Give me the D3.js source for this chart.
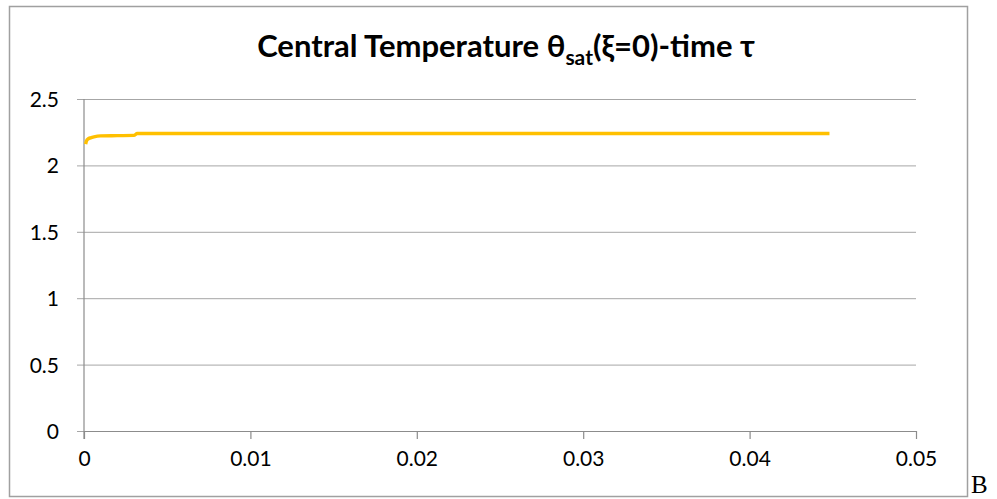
<!DOCTYPE html>
<html>
<head>
<meta charset="utf-8">
<script src="https://cdn.jsdelivr.net/npm/d3@7"></script>
<style>
  html, body { margin: 0; padding: 0; background: #fff; }
  svg { display: block; }
</style>
</head>
<body>
<svg id="chart" width="997" height="499"></svg>
<script>
// Central temperature θ_sat at ξ=0 against dimensionless time τ
const tau   = [0.0001, 0.00015, 0.00025, 0.0004, 0.0006, 0.001, 0.002, 0.0030, 0.0032, 0.0448];
const theta = [2.16,   2.185,   2.200,   2.208,  2.215,  2.222, 2.224, 2.226,  2.240,  2.240];

const xTicks = [0, 0.01, 0.02, 0.03, 0.04, 0.05];
const yTicks = [0, 0.5, 1, 1.5, 2, 2.5];

const svg = d3.select("#chart");
const font = "Lato, 'Open Sans', sans-serif";

// outer chart frame
svg.append("rect")
  .attr("x", 9.5).attr("y", 6.5)
  .attr("width", 958).attr("height", 490)
  .attr("fill", "#fff").attr("stroke", "#a0a0a0").attr("stroke-width", 1.5);

const plot = { left: 84, right: 916, top: 99, bottom: 431 };

const x = d3.scaleLinear().domain([0, 0.05]).range([plot.left, plot.right]);
const y = d3.scaleLinear().domain([0, 2.5]).range([plot.bottom, plot.top]);

// horizontal gridlines with tick stubs left of the axis
const yAxis = d3.axisLeft(y)
  .tickValues(yTicks)
  .tickSize(-(plot.right - plot.left))
  .tickSizeOuter(0)
  .tickPadding(25)
  .tickFormat(d3.format("~g"));

const gy = svg.append("g")
  .attr("transform", `translate(${plot.left},0)`)
  .call(yAxis);
gy.select(".domain").remove();
gy.selectAll(".tick line")
  .attr("x1", -7)
  .attr("stroke", "#a6a6a6").attr("stroke-width", 1);
gy.selectAll(".tick text")
  .attr("font-family", font).attr("font-size", 21).attr("fill", "#000")
  .attr("dy", "0.36em");

// x axis with tick marks below
const xAxis = d3.axisBottom(x)
  .tickValues(xTicks)
  .tickSize(8)
  .tickSizeOuter(0)
  .tickPadding(27)
  .tickFormat(d3.format("~g"));

const gx = svg.append("g")
  .attr("transform", `translate(0,${plot.bottom})`)
  .call(xAxis);
gx.select(".domain").attr("stroke", "#8c8c8c").attr("stroke-width", 1.2);
gx.selectAll(".tick line").attr("stroke", "#8c8c8c").attr("stroke-width", 1.2);
gx.selectAll(".tick text")
  .attr("font-family", font).attr("font-size", 21).attr("fill", "#000")
  .attr("dy", 0);

// vertical axis line
svg.append("line")
  .attr("x1", plot.left).attr("x2", plot.left)
  .attr("y1", plot.top).attr("y2", plot.bottom + 8)
  .attr("stroke", "#8c8c8c").attr("stroke-width", 1.2);

// data series
const line = d3.line()
  .x((d, i) => x(tau[i]))
  .y(d => y(d))
  .curve(d3.curveMonotoneX);

svg.append("path")
  .datum(theta)
  .attr("d", line)
  .attr("fill", "none")
  .attr("stroke", "#FFC000")
  .attr("stroke-width", 3.4)
  .attr("stroke-linejoin", "round");

// title with subscript
const title = svg.append("text")
  .attr("x", 506).attr("y", 57)
  .attr("text-anchor", "middle")
  .attr("font-family", font)
  .attr("font-weight", "bold")
  .attr("font-size", 31)
  .attr("fill", "#000");
title.append("tspan").text("Central Temperature θ");
title.append("tspan").attr("font-size", 21).attr("dy", 8).text("sat");
title.append("tspan").attr("dy", -8).text("(ξ=0)-time τ");

// trailing letter beside the frame
svg.append("text")
  .attr("x", 971).attr("y", 493)
  .attr("font-family", "'Liberation Serif', 'DejaVu Serif', serif")
  .attr("font-size", 25)
  .attr("fill", "#000")
  .text("B");
</script>
</body>
</html>
